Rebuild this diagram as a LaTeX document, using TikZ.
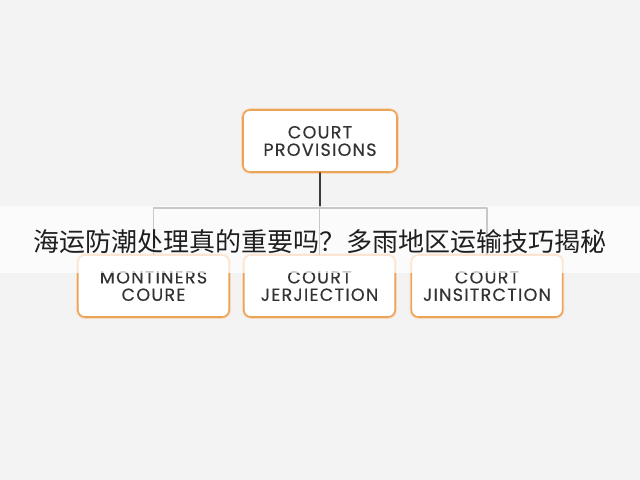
\documentclass[tikz,border=0pt]{standalone}
\usepackage{fontspec}
\setmainfont{Poppins}
\newfontfamily\boxfont[LetterSpace=7, FakeBold=0.4]{Poppins}
\newfontfamily\cjk{Noto Sans CJK SC}
\usetikzlibrary{positioning}
\definecolor{bg}{HTML}{F3F3F3}
\definecolor{boxline}{HTML}{EBA35A}
\definecolor{wire}{HTML}{3A3A3A}
\definecolor{ink}{HTML}{333333}
\tikzset{
  court/.style={draw=boxline, line width=1.1pt, fill=white, rounded corners=5pt,
    minimum width=3.78cm, minimum height=1.55cm, align=center, inner sep=2pt,
    text=ink, font=\boxfont\fontsize{12.5}{12.4}\selectfont,
    preaction={draw=boxline!40, line width=2.6pt}},
  wire/.style={draw=wire, line width=1pt}
}
\begin{document}
\begin{tikzpicture}[x=0.025cm, y=-0.025cm, line join=round, line cap=round]
	\fill[bg] (0,0) rectangle (640,480);
	\useasboundingbox (0,0) rectangle (640,480);
	\path
	(320,141) node[court, minimum width=3.85cm] (prov) {COURT\\PROVISIONS}
	(153.5,286) node[court] (mont) {MONTINERS\\COURE}
	(319.5,286) node[court] (jerj) {COURT\\JERJIECTION}
	(487,286) node[court] (jins) {COURT\\JINSITRCTION}
	(320,208) coordinate (J);
	% connectors
	\draw[wire] (prov.south) -- (J);
	\foreach \b in {mont,jerj,jins}{\draw[wire] (J) -| (\b.north);}
	% caption band
	\fill[white, opacity=0.72] (0,206) rectangle (640,273);
	\node[text=black!88, font=\cjk\fontsize{18.5}{20}\selectfont] (cap) at (320,242) {海运防潮处理真的重要吗？多雨地区运输技巧揭秘};
\end{tikzpicture}
\end{document}
